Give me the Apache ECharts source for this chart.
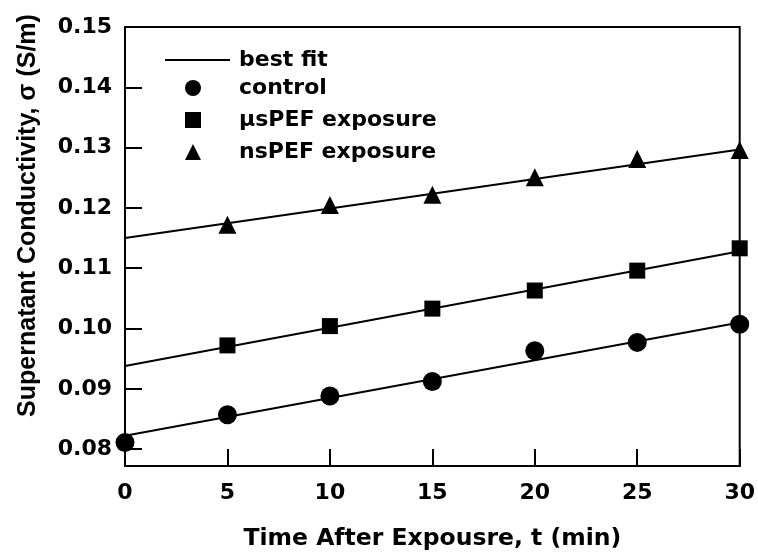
<!DOCTYPE html>
<html>
<head>
<meta charset="utf-8">
<script src="https://cdn.jsdelivr.net/npm/echarts@6/dist/echarts.min.js"></script>
<style>html,body{margin:0;padding:0;background:#fff}#c{width:758px;height:558px}</style>
</head>
<body>
<div id="c"></div>
<script>
// Data
const times = [0, 5, 10, 15, 20, 25, 30];
const controlValues = [0.0811, 0.0857, 0.0888, 0.0912, 0.0963, 0.0977, 0.1007];
const usPefTimes = [5, 10, 15, 20, 25, 30];
const usPefValues = [0.0972, 0.1004, 0.1033, 0.1063, 0.1096, 0.1133];
const nsPefTimes = [5, 10, 15, 20, 25, 30];
const nsPefValues = [0.1172, 0.1205, 0.1222, 0.1251, 0.1281, 0.1296];
// best-fit line end points (t, sigma)
const fitControl = [[0, 0.0822], [30, 0.1010]];
const fitUsPef = [[0, 0.0938], [30, 0.1128]];
const fitNsPef = [[0, 0.1150], [30, 0.1297]];
const xTicks = [0, 5, 10, 15, 20, 25, 30];
const yTicks = [0.08, 0.09, 0.10, 0.11, 0.12, 0.13, 0.14, 0.15];

const FONT = '"DejaVu Sans", Arial, sans-serif';
const FONT2 = '"Liberation Sans", Arial, sans-serif';
const chart = echarts.init(document.getElementById('c'), null, {renderer: 'canvas'});
const pair = (xs, ys) => xs.map((x, i) => [x, ys[i]]);
const fitSeries = (d) => ({
  name: 'best fit', type: 'line', data: d, symbol: 'none', z: 2,
  lineStyle: {color: '#000', width: 2}, itemStyle: {color: '#000'}, silent: true
});
const legendText = (pad) => ({fontFamily: FONT, fontWeight: 'bold', fontSize: 22, color: '#000', padding: [0, 0, 0, pad]});
const markStyle = {color: '#000', opacity: 1};
chart.setOption({
  animation: false,
  backgroundColor: '#fff',
  grid: {left: 125, top: 27, right: 16, bottom: 92, show: true, borderColor: '#000', borderWidth: 2, backgroundColor: 'transparent'},
  legend: [
    {
      orient: 'vertical', left: 160, top: 44, itemWidth: 65, itemHeight: 16,
      textStyle: legendText(4),
      data: [{name: 'best fit', icon: 'path://M0,0h0.01v0.01h-0.01z M0,7h65v2h-65z M64.99,15.99h0.01v0.01h-0.01z'}]
    },
    {
      orient: 'vertical', left: 180, top: 72, itemWidth: 16, itemHeight: 16, itemGap: 10,
      textStyle: legendText(33),
      itemStyle: {opacity: 1},
      data: [
        {name: 'control', icon: 'circle'},
        {name: 'μsPEF exposure', icon: 'rect'},
        {name: 'nsPEF exposure', icon: 'triangle'}
      ]
    }
  ],
  xAxis: {
    type: 'value', min: 0, max: 30, interval: 5,
    name: 'Time After Expousre, t (min)', nameLocation: 'middle', nameGap: 61,
    nameTextStyle: {fontFamily: FONT, fontWeight: 'bold', fontSize: 23.5, color: '#000'},
    axisLine: {lineStyle: {color: '#000', width: 2}},
    axisTick: {inside: true, length: 17, lineStyle: {color: '#000', width: 2}},
    axisLabel: {fontFamily: FONT, fontWeight: 'bold', fontSize: 22, color: '#000', margin: 16,
      formatter: v => xTicks.includes(v) ? String(v) : ''},
    splitLine: {show: false}
  },
  yAxis: {
    type: 'value', min: 0.0772, max: 0.15,
    name: 'Supernatant Conductivity, σ (S/m)', nameLocation: 'middle', nameGap: 84,
    nameTextStyle: {fontFamily: FONT2, fontWeight: 'bold', fontSize: 25, color: '#000', padding: [0, 0, 0, 62]},
    axisLine: {lineStyle: {color: '#000', width: 2}},
    axisTick: {inside: true, length: 17, lineStyle: {color: '#000', width: 2},
      customValues: yTicks},
    axisLabel: {fontFamily: FONT, fontWeight: 'bold', fontSize: 22, color: '#000', margin: 13,
      customValues: yTicks, formatter: v => v.toFixed(2)},
    splitLine: {show: false}
  },
  series: [
    fitSeries(fitControl), fitSeries(fitUsPef), fitSeries(fitNsPef),
    {name: 'control', type: 'scatter', data: pair(times, controlValues), symbol: 'circle', symbolSize: 19,
      itemStyle: markStyle, z: 3},
    {name: 'μsPEF exposure', type: 'scatter', data: pair(usPefTimes, usPefValues), symbol: 'rect', symbolSize: 16,
      itemStyle: markStyle, z: 3},
    {name: 'nsPEF exposure', type: 'scatter', data: pair(nsPefTimes, nsPefValues), symbol: 'triangle', symbolSize: 18,
      itemStyle: markStyle, z: 3}
  ]
});
</script>
</body>
</html>
